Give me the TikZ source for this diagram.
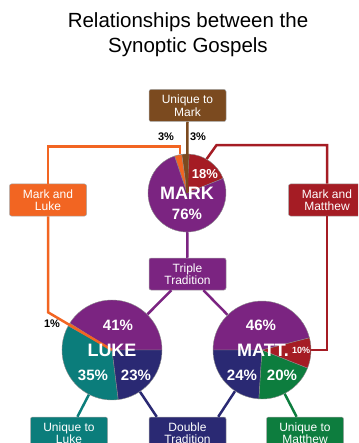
\documentclass[tikz,border=0pt]{standalone}
\usepackage{fontspec}
\setmainfont{Liberation Sans}
\usepackage{xcolor}
\usepackage{tikz}
\usetikzlibrary{positioning, calc}

\definecolor{mkbrown}{HTML}{7B4A1F}
\definecolor{lkorange}{HTML}{F26522}
\definecolor{mtred}{HTML}{A51C24}
\definecolor{tripurple}{HTML}{7B2481}
\definecolor{dblnavy}{HTML}{2A2973}
\definecolor{lkteal}{HTML}{0B7D7B}
\definecolor{mtgreen}{HTML}{0D7D3E}

% centre, radius, start, end, colour
\newcommand{\pieslice}[5]{%
  \filldraw[fill=#5, draw=black!45, line width=0.4pt]
    (#1) -- ++(#3:#2) arc[start angle=#3, end angle=#4, radius=#2] -- cycle;}

\begin{document}
\begin{tikzpicture}[
  x=1pt, y=-1pt,
  box/.style = {
    rectangle, rounded corners=2pt,
    draw=black!35, line width=0.5pt,
    minimum width=77, minimum height=32,
    align=center, text=white, inner sep=1pt,
    font=\fontsize{12}{12.5}\selectfont
  },
  pie/.style  = {circle, inner sep=0pt},
  link/.style = {line width=2.5pt},
  big/.style  = {text=white, font=\bfseries\fontsize{18}{18}\selectfont},
  pct/.style  = {text=white, font=\bfseries\fontsize{15}{15}\selectfont},
  note/.style = {text=black, font=\bfseries\fontsize{11}{11}\selectfont}
]
\useasboundingbox (0,0) rectangle (358,443);
\clip (0,0) rectangle (358,443);

%% ---- Title ----
\node[align=center, font=\fontsize{20.5}{25}\selectfont] (title) at (188,35)
  {Relationships between the\\Synoptic Gospels};

%% ---- Boxes ----
\node[box, fill=mkbrown]   (umark)  at (187.5,105.5) {Unique to\\Mark};
\node[box, fill=lkorange]  (mkluke) at (48,200)      {Mark and\\Luke};
\node[box, fill=mtred]     (mkmatt) at (327,200)     {Mark and\\Matthew};
\node[box, fill=tripurple] (triple) at (187.5,274)   {Triple\\Tradition};
\node[box, fill=lkteal]    (uluke)  at (69,433)      {Unique to\\Luke};
\node[box, fill=dblnavy]   (double) at (187.5,433)   {Double\\Tradition};
\node[box, fill=mtgreen]   (umatt)  at (305,433)     {Unique to\\Matthew};

%% ---- Pies (placeholders) ----
\node[pie, minimum size=78]  (mark) at (187,193) {};
\node[pie, minimum size=100] (luke) at (112,350) {};
\node[pie, minimum size=98]  (matt) at (262,350) {};

%% ---- Links under the pies ----
\draw[link, tripurple] (mark) -- (triple);
\draw[link, tripurple] (triple) -- (luke);
\draw[link, tripurple] (triple) -- (matt);
\draw[link, lkteal] (luke) -- (uluke);
\draw[link, mtgreen] (matt) -- (umatt);
\draw[link, dblnavy] (luke) -- ($(double.north west)+(8,0)$);
\draw[link, dblnavy] (matt) -- ($(double.north east)+(-8,0)$);
\draw[link, lkorange] (mkluke.north) |- ($(mark.100)+(0,-8)$) -- (mark.100);
\draw[link, mtred] (mkmatt.north) |- ($(mark.60)+(10,-14)$) -- (mark.60);
\draw[link, mtred] (mkmatt.south) |- (matt.east);

%% ---- Mark ----
\pieslice{mark.center}{39}{-22}{-87}{mtred}
\pieslice{mark.center}{39}{-87}{-97.8}{mkbrown}
\pieslice{mark.center}{39}{-97.8}{-108.6}{lkorange}
\pieslice{mark.center}{39}{-108.6}{-382}{tripurple}

%% ---- Luke ----
\pieslice{luke.center}{50}{0}{-147.6}{tripurple}
\pieslice{luke.center}{50}{-147.6}{-151.2}{lkorange}
\pieslice{luke.center}{50}{-151.2}{-277.2}{lkteal}
\pieslice{luke.center}{50}{-277.2}{-360}{dblnavy}

%% ---- Matthew ----
\pieslice{matt.center}{49}{-14.4}{-180}{tripurple}
\pieslice{matt.center}{49}{-180}{-266.4}{dblnavy}
\pieslice{matt.center}{49}{-266.4}{-338.4}{mtgreen}
\pieslice{matt.center}{49}{-338.4}{-374.4}{mtred}

%% ---- Links over the pies ----
\draw[link, mkbrown] (umark.south) -- (mark.center);
\draw[link, lkorange] (mkluke.south) -- ++(0,96) -- (luke.center);

%% ---- Labels ----
\node[big] (mkname) at (187,193) {MARK};
\node[pct] (mk76) at (187,214) {76\%};
\node[pct, font=\bfseries\fontsize{13}{13}\selectfont] (mk18) at (205,174) {18\%};
\node[note] (mk3a) at (166,137) {3\%};
\node[note] (mk3b) at (198,137) {3\%};

\node[big] (lkname) at (112,350) {LUKE};
\node[pct] (lk41) at (118,325) {41\%};
\node[pct] (lk35) at (93,375) {35\%};
\node[pct] (lk23) at (136,375) {23\%};
\node[note] (lk1) at (52,324) {1\%};

\node[big] (mtname) at (263,350) {MATT.};
\node[pct] (mt46) at (261,325) {46\%};
\node[pct] (mt24) at (242,375) {24\%};
\node[pct] (mt20) at (282,375) {20\%};
\node[pct, font=\bfseries\fontsize{9}{9}\selectfont] (mt10) at (301,350) {10\%};

\end{tikzpicture}
\end{document}
